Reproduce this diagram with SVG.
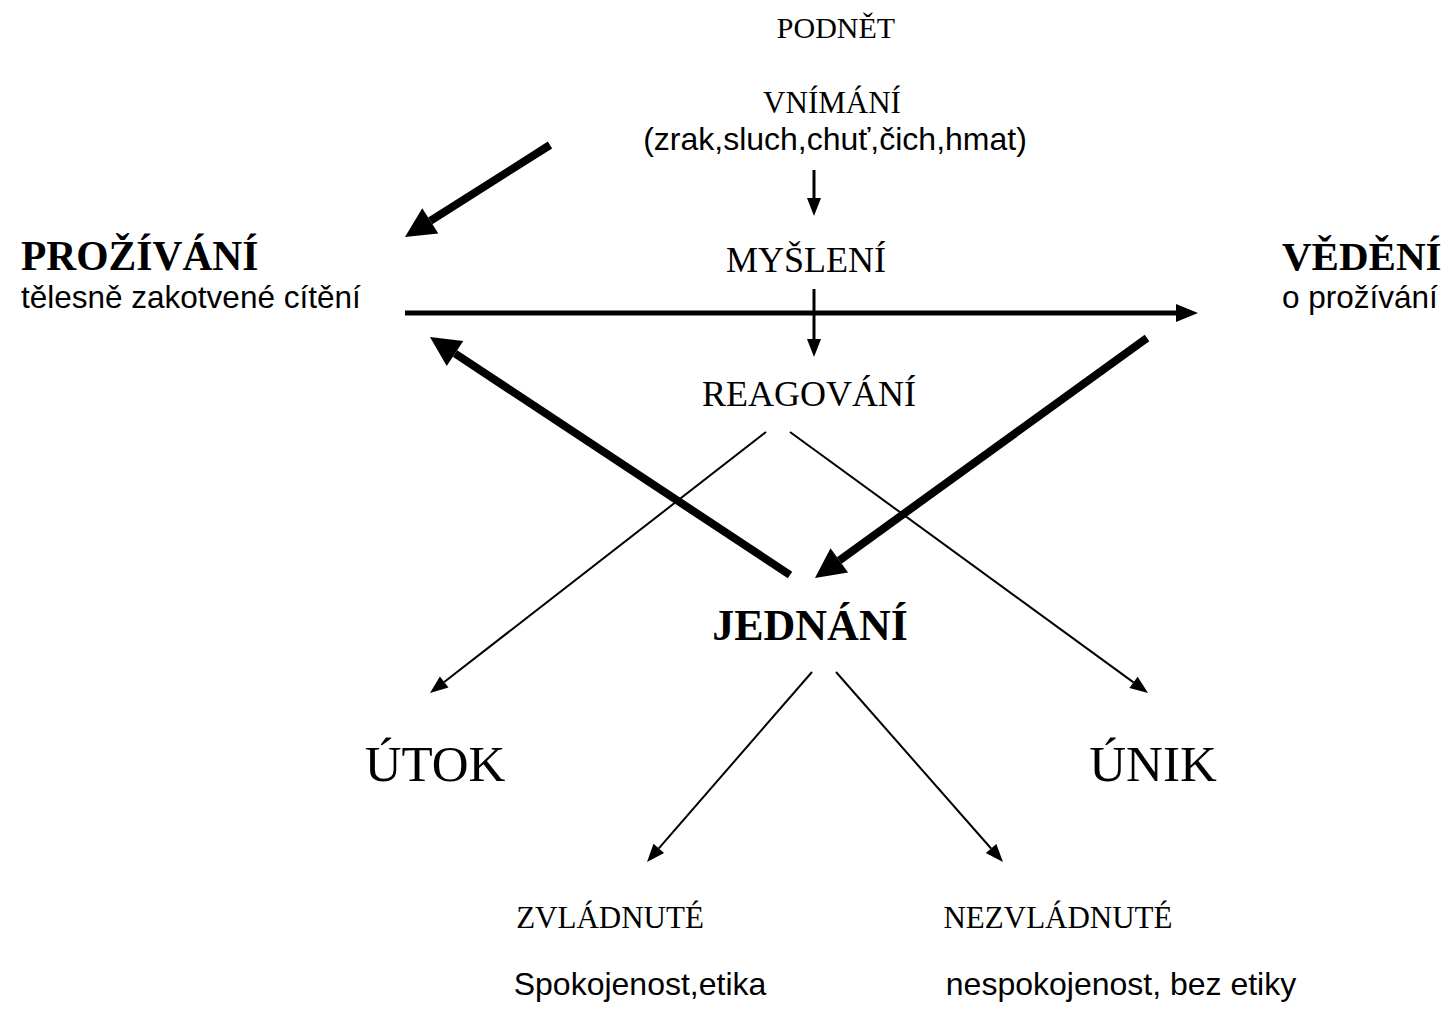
<svg xmlns="http://www.w3.org/2000/svg" width="1448" height="1010" viewBox="0 0 1448 1010">
<style>
.serif{font-family:"Liberation Serif","Times New Roman",serif;fill:#000}
.sans{font-family:"Liberation Sans",Arial,sans-serif;fill:#000}
.b{font-weight:bold}
.c{text-anchor:middle}
.thick{stroke:#000;stroke-width:8;fill:none}
.mid{stroke:#000;stroke-width:5;fill:none}
.vert{stroke:#000;stroke-width:3;fill:none}
.thin{stroke:#000;stroke-width:2;fill:none}
</style>
<defs>
<marker id="hBig" markerUnits="userSpaceOnUse" orient="auto" refX="0" refY="0" overflow="visible" markerWidth="1" markerHeight="1"><path d="M0,-15 L30,0 L0,15 Z" fill="#000"/></marker>
<marker id="hMid" markerUnits="userSpaceOnUse" orient="auto" refX="0" refY="0" overflow="visible" markerWidth="1" markerHeight="1"><path d="M0,-9 L22,0 L0,9 Z" fill="#000"/></marker>
<marker id="hSmall" markerUnits="userSpaceOnUse" orient="auto" refX="0" refY="0" overflow="visible" markerWidth="1" markerHeight="1"><path d="M0,-7 L18,0 L0,7 Z" fill="#000"/></marker>
</defs>
<rect width="1448" height="1010" fill="#fff"/>
<g id="connectors">
<line class="thick" x1="550" y1="145" x2="430.3" y2="220.9" marker-end="url(#hBig)"/>
<line class="thick" x1="790" y1="575" x2="455" y2="353.5" marker-end="url(#hBig)"/>
<line class="thick" x1="1147" y1="338" x2="839.3" y2="560.4" marker-end="url(#hBig)"/>
<line class="mid" x1="405" y1="313" x2="1176" y2="313" marker-end="url(#hMid)"/>
<line class="vert" x1="814" y1="170" x2="814" y2="198" marker-end="url(#hSmall)"/>
<line class="vert" x1="814" y1="289" x2="814" y2="339" marker-end="url(#hSmall)"/>
<line class="thin" x1="766" y1="432" x2="444.2" y2="682" marker-end="url(#hSmall)"/>
<line class="thin" x1="790" y1="432" x2="1133.5" y2="682.4" marker-end="url(#hSmall)"/>
<line class="thin" x1="812" y1="672" x2="658.8" y2="848.4" marker-end="url(#hSmall)"/>
<line class="thin" x1="836" y1="672" x2="991.1" y2="848.5" marker-end="url(#hSmall)"/>
</g>
<g id="podnet"><text class="serif c" x="836" y="38" font-size="30">PODNĚT</text></g>
<g id="vnimani">
<text class="serif c" x="832" y="113" font-size="31">VNÍMÁNÍ</text>
<text class="sans c" x="835" y="150" font-size="32">(zrak,sluch,chuť,čich,hmat)</text>
</g>
<g id="mysleni"><text class="serif c" x="806" y="272" font-size="36">MYŠLENÍ</text></g>
<g id="reagovani"><text class="serif c" x="809" y="406" font-size="36">REAGOVÁNÍ</text></g>
<g id="prozivani">
<text class="serif b" x="21" y="270" font-size="41.5">PROŽÍVÁNÍ</text>
<text class="sans" x="21" y="308" font-size="31.5">tělesně zakotvené cítění</text>
</g>
<g id="vedeni">
<text class="serif b" x="1282" y="270" font-size="41">VĚDĚNÍ</text>
<text class="sans" x="1282" y="308" font-size="31.5">o prožívání</text>
</g>
<g id="jednani"><text class="serif b c" x="810" y="640" font-size="44">JEDNÁNÍ</text></g>
<g id="utok"><text class="serif c" x="435" y="781" font-size="51">ÚTOK</text></g>
<g id="unik"><text class="serif c" x="1153" y="781" font-size="51">ÚNIK</text></g>
<g id="zvladnute">
<text class="serif c" x="610" y="928" font-size="31">ZVLÁDNUTÉ</text>
<text class="sans c" x="640" y="995" font-size="32">Spokojenost,etika</text>
</g>
<g id="nezvladnute">
<text class="serif c" x="1058" y="928" font-size="31">NEZVLÁDNUTÉ</text>
<text class="sans c" x="1121" y="995" font-size="32">nespokojenost, bez etiky</text>
</g>
</svg>
